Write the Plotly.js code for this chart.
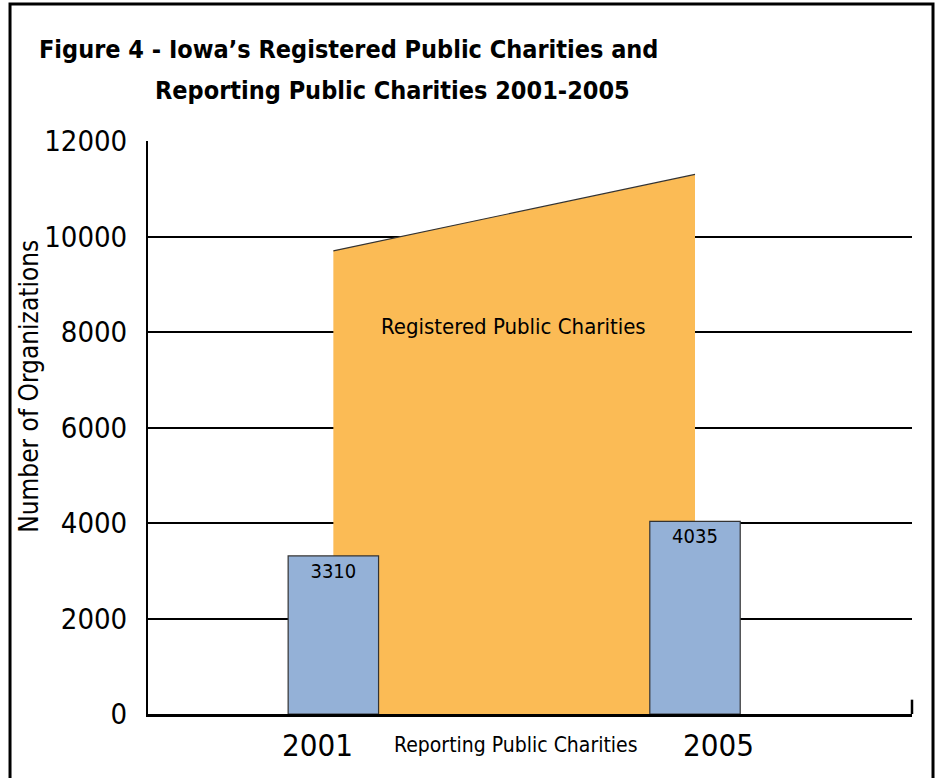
<!DOCTYPE html>
<html>
<head>
<meta charset="utf-8">
<script src="https://cdn.plot.ly/plotly-3.0.1.min.js"></script>
<style>html,body{margin:0;padding:0;background:#fff;}#chart{width:939px;height:778px;}</style>
</head>
<body>
<div id="chart"></div>
<script>
// Data
const years = [2001, 2005];
const registered = [9700, 11300];
const reporting = [3310, 4035];
const yTicks = [0, 2000, 4000, 6000, 8000, 10000, 12000];
const seriesNames = ["Registered Public Charities", "Reporting Public Charities"];
const yTitle = "Number of Organizations";
const titleLines = ["Figure 4 - Iowa’s Registered Public Charities and", "Reporting Public Charities 2001-2005"];

const FONT = '"DejaVu Sans Condensed", "Liberation Sans Narrow", sans-serif';
const xr = [1998.95, 2007.4];
const yr = [0, 12000];

const traces = [
  {
    type: 'scatter', mode: 'lines', x: years, y: registered,
    fill: 'tozeroy', fillcolor: '#FBBB55',
    line: {color: '#333333', width: 1.2},
    xaxis: 'x', yaxis: 'y', hoverinfo: 'skip', name: seriesNames[0]
  },
  {
    type: 'bar', x: years, y: reporting, width: 1.0,
    marker: {color: '#94B1D7', line: {color: '#333333', width: 1.2}},
    text: reporting.map(String), textposition: 'inside', insidetextanchor: 'end',
    textfont: {family: FONT, size: 20, color: '#000'},
    xaxis: 'x2', yaxis: 'y2', name: seriesNames[1]
  }
];

const layout = {
  width: 939, height: 778,
  margin: {l: 148, r: 27, t: 141, b: 64, pad: 0},
  paper_bgcolor: '#fff', plot_bgcolor: '#fff',
  showlegend: false,
  font: {family: FONT, color: '#000'},
  xaxis: {range: xr, showgrid: false, zeroline: false, showticklabels: false, ticks: '',
          showline: true, linecolor: '#000', linewidth: 2.5, fixedrange: true},
  yaxis: {range: yr, tickvals: yTicks, ticktext: yTicks.map(String), showgrid: true, gridcolor: '#000', gridwidth: 2,
          zeroline: false, showline: true, linecolor: '#000', linewidth: 2, ticks: '',
          tickfont: {family: FONT, size: 29, color: '#000'}, ticklabelstandoff: 13},
  xaxis2: {range: xr, overlaying: 'x', visible: false, fixedrange: true},
  yaxis2: {range: yr, overlaying: 'y', visible: false},
  shapes: [
    {type: 'rect', xref: 'paper', yref: 'paper', x0: -0.1806, x1: 1.0275, y0: -0.12, y1: 1.2391,
     line: {color: '#000', width: 3}, fillcolor: 'rgba(0,0,0,0)', layer: 'above'},
    {type: 'line', xref: 'paper', yref: 'paper', x0: 1, x1: 1, y0: 0, y1: 0.025,
     line: {color: '#000', width: 2.5}}
  ],
  annotations: [
    {xref: 'paper', yref: 'paper', x: -0.1453, y: 1.159, xanchor: 'left', yanchor: 'middle', showarrow: false,
     text: '<b>' + titleLines[0] + '</b>', font: {family: FONT, size: 25, color: '#000'}},
    {xref: 'paper', yref: 'paper', x: 0.0065, y: 1.0873, xanchor: 'left', yanchor: 'middle', showarrow: false,
     text: '<b>' + titleLines[1] + '</b>', font: {family: FONT, size: 25, color: '#000'}},
    {xref: 'paper', yref: 'paper', x: -0.155, y: 0.572, xanchor: 'center', yanchor: 'middle', showarrow: false,
     textangle: -90, text: yTitle, font: {family: FONT, size: 26, color: '#000'}},
    {xref: 'x', yref: 'paper', x: years[0], y: 0, xshift: -16, yshift: -31, yanchor: 'middle', showarrow: false,
     text: String(years[0]), font: {family: FONT, size: 31, color: '#000'}},
    {xref: 'x', yref: 'paper', x: years[1], y: 0, xshift: 23, yshift: -31, yanchor: 'middle', showarrow: false,
     text: String(years[1]), font: {family: FONT, size: 31, color: '#000'}},
    {xref: 'x', yref: 'paper', x: (years[0] + years[1]) / 2, y: 0, xshift: 2, yshift: -31, yanchor: 'middle', showarrow: false,
     text: seriesNames[1], font: {family: FONT, size: 21, color: '#000'}},
    {xref: 'x', yref: 'y', x: (years[0] + years[1]) / 2, y: 8000, xshift: -1, yshift: 6, showarrow: false,
     text: seriesNames[0], font: {family: FONT, size: 22, color: '#000'}}
  ]
};

Plotly.newPlot('chart', traces, layout, {displayModeBar: false, staticPlot: true});
</script>
</body>
</html>
